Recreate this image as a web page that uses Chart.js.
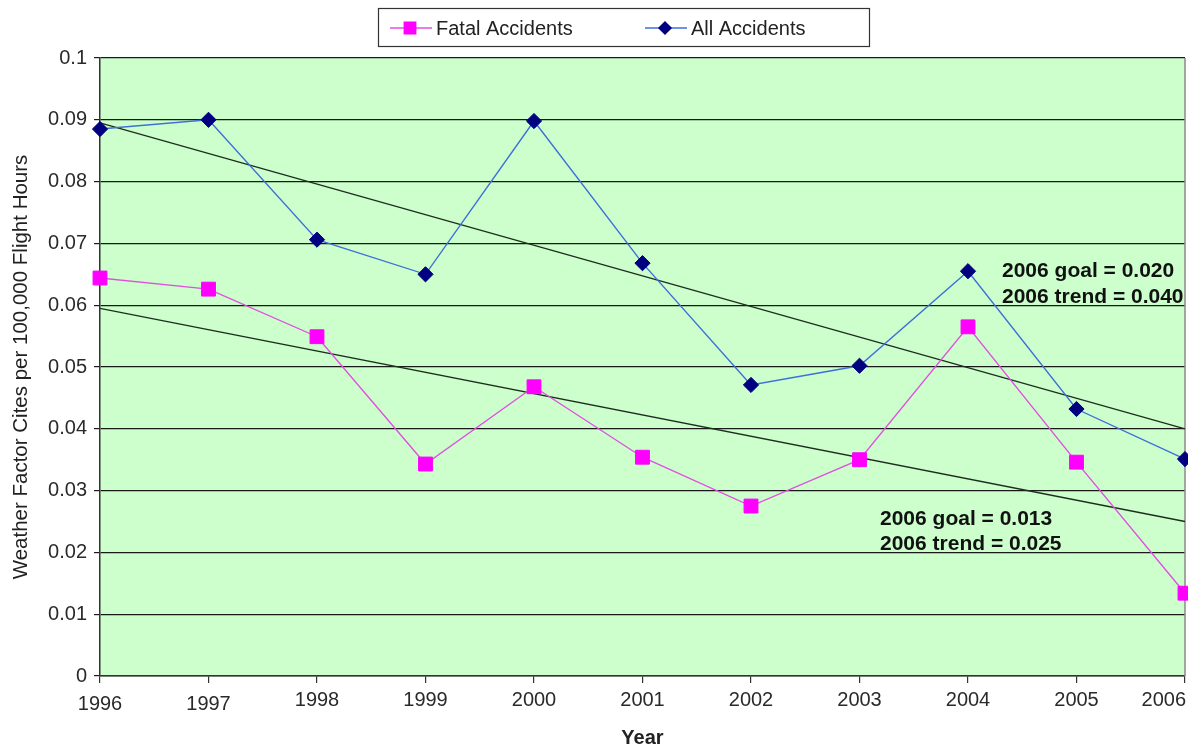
<!DOCTYPE html>
<html>
<head>
<meta charset="utf-8">
<title>Weather Factor Cites per 100,000 Flight Hours</title>
<script src="https://cdn.jsdelivr.net/npm/chart.js@4"></script>
<style>
  html, body { margin: 0; padding: 0; background: #ffffff; overflow: hidden; }
  #wrap { width: 1188px; height: 750px; }
</style>
</head>
<body>
<div id="wrap"><canvas id="chart" width="1188" height="750"></canvas></div>
<script>
// Years on the x axis
const years = ['1996', '1997', '1998', '1999', '2000', '2001', '2002', '2003', '2004', '2005', '2006'];

// Weather factor cites per 100,000 flight hours
const fatalAccidents = [0.0644, 0.0626, 0.0549, 0.0343, 0.0468, 0.0354, 0.0275, 0.0350, 0.0565, 0.0346, 0.0134];
const allAccidents   = [0.0885, 0.0900, 0.0706, 0.0650, 0.0898, 0.0668, 0.0471, 0.0502, 0.0655, 0.0432, 0.0351];

// Linear trend endpoints (1996, 2006)
const allTrend   = [0.0895, 0.040];
const fatalTrend = [0.0595, 0.025];

// Y axis tick values
const yTicks = [0, 0.01, 0.02, 0.03, 0.04, 0.05, 0.06, 0.07, 0.08, 0.09, 0.1];

// Trend notes
const allNote   = ['2006 goal = 0.020', '2006 trend = 0.040'];
const fatalNote = ['2006 goal = 0.013', '2006 trend = 0.025'];

const FONT = '"Liberation Sans", Arial, Helvetica, sans-serif';

// a trend line only has its two end points; the years between are left empty
function trendSeries(ends) {
  return years.map((_, i) => i === 0 ? ends[0] : (i === years.length - 1 ? ends[1] : null));
}

// green plot background, grey right-hand frame, x label placement
const plotFrame = {
  id: 'plotFrame',
  beforeDraw(chart) {
    const { ctx, chartArea: a } = chart;
    ctx.save();
    ctx.fillStyle = '#CCFFCC';
    ctx.fillRect(a.left, a.top, a.right - a.left, a.bottom - a.top);
    ctx.restore();

    // last year label sits flush with the right edge, first two sit slightly lower
    const items = chart.scales.x.getLabelItems(chart.chartArea);
    if (items.length) {
      const last = items[items.length - 1];
      last.options.textAlign = 'right';
      last.options.translation[0] += 1;
      items[0].options.translation[1] += 4;
      if (items[1]) items[1].options.translation[1] += 4;
    }
  },
  beforeDatasetsDraw(chart) {
    const { ctx, chartArea: a } = chart;
    ctx.save();
    ctx.strokeStyle = '#8a8a8a';
    ctx.lineWidth = 1.5;
    ctx.beginPath();
    ctx.moveTo(a.right, a.top);
    ctx.lineTo(a.right, a.bottom);
    ctx.stroke();
    ctx.restore();
  }
};

// framed legend with line-and-marker samples, plus the trend notes
const legendAndNotes = {
  id: 'legendAndNotes',
  afterDraw(chart) {
    const { ctx } = chart;
    ctx.save();

    ctx.strokeStyle = '#333333';
    ctx.lineWidth = 1.2;
    ctx.strokeRect(378.5, 8.5, 491, 38);

    const entries = [
      { ds: chart.data.datasets[0], x: 390, r: 8 },
      { ds: chart.data.datasets[1], x: 645, r: 6 }
    ];
    const cy = 28;
    entries.forEach(({ ds, x, r }) => {
      ctx.strokeStyle = ds.borderColor;
      ctx.lineWidth = 1.5;
      ctx.beginPath();
      ctx.moveTo(x, cy);
      ctx.lineTo(x + 42, cy);
      ctx.stroke();
      ctx.fillStyle = ds.pointBackgroundColor;
      ctx.strokeStyle = ds.pointBorderColor;
      Chart.helpers.drawPoint(ctx, { pointStyle: ds.pointStyle, radius: r, borderWidth: 1 }, x + 20, cy);
      ctx.fillStyle = '#222222';
      ctx.font = '20px ' + FONT;
      ctx.textBaseline = 'middle';
      ctx.textAlign = 'left';
      ctx.fillText(ds.label, x + 46, cy + 1);
    });

    ctx.fillStyle = '#111111';
    ctx.font = 'bold 21px ' + FONT;
    ctx.textAlign = 'left';
    ctx.textBaseline = 'middle';
    allNote.forEach((t, i) => ctx.fillText(t, 1002, 271 + i * 26));
    fatalNote.forEach((t, i) => ctx.fillText(t, 880, 519 + i * 25));

    ctx.restore();
  }
};

const ctx = document.getElementById('chart').getContext('2d');
new Chart(ctx, {
  type: 'line',
  data: {
    labels: years,
    datasets: [
      {
        label: 'Fatal Accidents',
        data: fatalAccidents,
        borderColor: '#E050E0',
        borderWidth: 1.4,
        pointStyle: 'rect',
        pointRadius: 9.8,
        pointBackgroundColor: '#FF00FF',
        pointBorderColor: '#FF00FF',
        pointBorderWidth: 1,
        tension: 0,
        clip: false,
        order: 1
      },
      {
        label: 'All Accidents',
        data: allAccidents,
        borderColor: '#3F6FD8',
        borderWidth: 1.4,
        pointStyle: 'rectRot',
        pointRadius: 7.6,
        pointBackgroundColor: '#000080',
        pointBorderColor: '#000080',
        pointBorderWidth: 1,
        tension: 0,
        clip: false,
        order: 0
      },
      {
        label: 'All Accidents trend',
        data: trendSeries(allTrend),
        borderColor: '#1E2E1E',
        borderWidth: 1.3,
        pointRadius: 0,
        spanGaps: true,
        order: 2
      },
      {
        label: 'Fatal Accidents trend',
        data: trendSeries(fatalTrend),
        borderColor: '#1E2E1E',
        borderWidth: 1.3,
        pointRadius: 0,
        spanGaps: true,
        order: 3
      }
    ]
  },
  options: {
    responsive: false,
    animation: false,
    events: [],
    layout: { autoPadding: false, padding: { top: 58, right: 3, bottom: 0, left: 0 } },
    plugins: {
      legend: { display: false },
      title: { display: false },
      tooltip: { enabled: false }
    },
    scales: {
      x: {
        type: 'category',
        offset: false,
        grid: {
          drawOnChartArea: false,
          drawTicks: true,
          tickLength: 7,
          color: '#333333',
          lineWidth: 1.2
        },
        border: { display: true, color: '#333333', width: 1.5 },
        ticks: {
          color: '#2a2a2a',
          font: { family: FONT, size: 20 },
          padding: 5,
          maxRotation: 0,
          autoSkip: false
        },
        title: {
          display: true,
          text: 'Year',
          color: '#222222',
          font: { family: FONT, size: 20, weight: 'bold' },
          padding: { top: 0, bottom: 0 }
        },
        afterFit(s) {
          s.paddingLeft = 0;
          s.paddingRight = 0;
          s.height = 74;
        }
      },
      y: {
        min: 0,
        max: 0.1,
        afterBuildTicks(s) {
          s.ticks = yTicks.map(v => ({ value: v }));
        },
        grid: {
          color: '#1a1a1a',
          lineWidth: 1.2,
          drawTicks: true,
          tickLength: 6
        },
        border: { display: true, color: '#333333', width: 1.5 },
        ticks: {
          color: '#2a2a2a',
          font: { family: FONT, size: 20 },
          padding: 7,
          callback: v => String(+Number(v).toFixed(2))
        },
        title: {
          display: true,
          text: 'Weather Factor Cites per 100,000 Flight Hours',
          color: '#222222',
          font: { family: FONT, size: 20.5 },
          padding: { top: 9, bottom: 0 }
        },
        afterFit(s) {
          s.width = 100;
        }
      }
    }
  },
  plugins: [plotFrame, legendAndNotes]
});
</script>
</body>
</html>
